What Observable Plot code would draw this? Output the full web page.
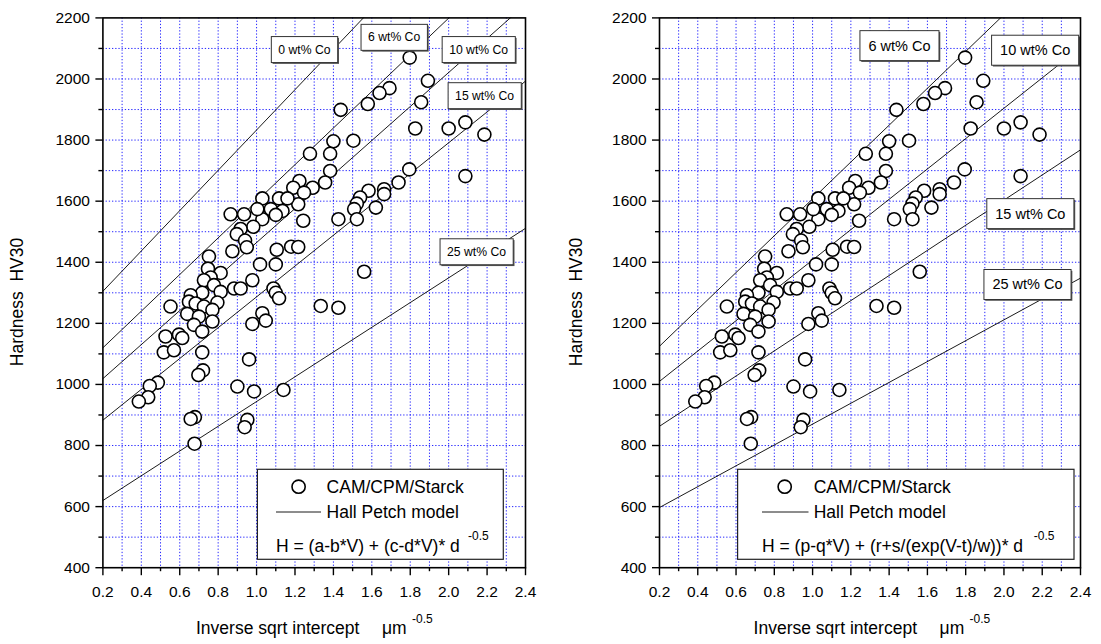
<!DOCTYPE html>
<html><head><meta charset="utf-8">
<script src="https://cdn.jsdelivr.net/npm/d3@7"></script>
<script src="https://cdn.jsdelivr.net/npm/@observablehq/plot@0.6"></script>
<style>
body{margin:0;background:#fff;}
#chart{position:relative;width:1101px;height:644px;font-family:"Liberation Sans",Arial,sans-serif;}
#chart svg{position:absolute;top:0;overflow:visible;}
</style></head><body><div id="chart"></div>
<script>
// ---- data (inverse sqrt intercept, Vickers hardness) ----
const pointX = [1.797,1.892,1.692,1.640,1.579,1.438,1.857,1.826,2.000,2.087,2.186,2.087,1.400,1.504,1.278,1.383,1.383,1.795,1.739,1.357,
 1.292,1.223,1.191,1.247,1.217,1.243,1.583,1.664,1.664,1.539,1.522,1.508,1.621,1.522,1.426,1.560,1.334,1.426,
 1.030,1.117,1.161,1.074,1.135,1.030,1.004,0.935,0.865,0.983,0.917,0.897,0.940,0.949,0.874,1.105,1.100,1.180,1.217,1.018,
 0.752,0.747,0.813,0.761,0.726,0.778,0.978,0.883,0.917,0.717,0.813,0.657,1.088,1.100,1.117,0.648,0.683,0.796,0.726,0.552,
 0.770,0.639,0.700,0.770,0.674,0.717,1.030,1.048,0.978,0.526,0.596,0.613,0.517,0.570,0.717,0.961,1.100,
 0.721,0.697,0.486,0.444,0.436,0.387,0.900,0.987,1.140,0.679,0.657,0.952,0.938,0.677];
const pointY = [2070,1994,1970,1954,1918,1899,1924,1838,1838,1858,1818,1682,1796,1798,1755,1755,1699,1704,1661,1661,
 1644,1666,1644,1628,1590,1536,1634,1639,1623,1612,1592,1574,1579,1541,1541,1369,1257,1251,
 1609,1609,1609,1574,1568,1541,1574,1557,1557,1516,1509,1492,1471,1449,1436,1441,1393,1451,1450,1393,
 1419,1379,1365,1350,1341,1325,1341,1314,1314,1300,1303,1292,1314,1300,1282,1271,1265,1268,1255,1255,
 1244,1231,1222,1206,1195,1173,1233,1209,1198,1157,1163,1152,1105,1112,1105,1082,1555,
 1046,1031,1006,995,958,944,993,977,982,893,887,884,860,806];

// ---- Hall-Petch model lines: hardness at x = 0.2 and at x = 2.4 ----
const leftModels  = ["0 wt% Co","6 wt% Co","10 wt% Co","15 wt% Co","25 wt% Co"];
const leftAtLow   = [1305,1120,1019,883,620];
const leftAtHigh  = [2757,2439,2244,1993,1511];
const leftLabelX  = [1.249,1.716,2.156,2.187,2.145];
const leftLabelY  = [2096,2136,2096,1945,1434];

const rightModels = ["6 wt% Co","10 wt% Co","15 wt% Co","25 wt% Co"];
const rightAtLow  = [1125,1010,863,597];
const rightAtHigh = [2452,2103,1768,1348];
const rightLabelX = [1.454,2.163,2.138,2.123];
const rightLabelY = [2108,2093,1558,1326];

const xLow = 0.2, xHigh = 2.4;
const xMajorTicks = [0.2,0.4,0.6,0.8,1.0,1.2,1.4,1.6,1.8,2.0,2.2,2.4];
const xMinorTicks = [0.3,0.5,0.7,0.9,1.1,1.3,1.5,1.7,1.9,2.1,2.3];
const yMajorTicks = [400,600,800,1000,1200,1400,1600,1800,2000,2200];
const yMinorTicks = [500,700,900,1100,1300,1500,1700,1900,2100];

const points = pointX.map((x,i)=>({x, y: pointY[i]}));
const font = '"Liberation Sans", Arial, sans-serif';

function panel(cfg){
  const lineData = [];
  cfg.models.forEach((m,i)=>{
    lineData.push({model:m, x:xLow, y:cfg.atLow[i]});
    lineData.push({model:m, x:xHigh, y:cfg.atHigh[i]});
  });
  const labels = cfg.models.map((m,i)=>({text:m, x:cfg.labelX[i], y:cfg.labelY[i]}));
  const gridX = xMajorTicks.concat(xMinorTicks).filter(v=>v>0.25 && v<2.35);
  const gridY = yMajorTicks.concat(yMinorTicks).filter(v=>v>450 && v<2150);
  const svg = Plot.plot({
    width: cfg.width, height: 644,
    marginLeft: cfg.ml, marginRight: cfg.mr, marginTop: 17.4, marginBottom: 76.8,
    style: {fontFamily: font, fontSize: "15.5px", color: "black", background: "transparent", overflow: "visible"},
    x: {domain: [xLow, xHigh]},
    y: {domain: [400, 2200]},
    marks: [
      Plot.ruleX(gridX, {stroke: "#0000ff", strokeDasharray: "1.3,1.9", strokeWidth: 1, strokeOpacity: 0.85}),
      Plot.ruleY(gridY, {stroke: "#0000ff", strokeDasharray: "1.3,1.9", strokeWidth: 1, strokeOpacity: 0.85}),
      Plot.line(lineData, {x: "x", y: "y", z: "model", stroke: "black", strokeWidth: 0.9, clip: true}),
      Plot.dot(points, {x: "x", y: "y", r: 6.5, fill: "white", stroke: "black", strokeWidth: 1.6}),
      Plot.text(labels, {x: "x", y: "y", text: "text", fontSize: cfg.labelFont, fill: "black"}),
      Plot.frame({stroke: "black", strokeWidth: 1.6}),
      Plot.axisX(xMajorTicks, {tickSize: 8, tickPadding: 10, tickFormat: d => d.toFixed(1), label: null, strokeWidth: 1.4, fontSize: 15.5}),
      Plot.axisX(xMinorTicks, {tickSize: 4, tickFormat: () => "", label: null, strokeWidth: 1.4}),
      Plot.axisY(yMajorTicks, {tickSize: 7, tickPadding: 6, tickFormat: d => String(d), label: null, strokeWidth: 1.4, fontSize: 15.5}),
      Plot.axisY(yMinorTicks, {tickSize: 4, tickFormat: () => "", label: null, strokeWidth: 1.4})
    ]
  });
  svg.style.left = cfg.left + "px";
  document.getElementById("chart").appendChild(svg);

  // boxes behind the composition labels
  svg.querySelectorAll('g[aria-label="text"] text').forEach(t=>{
    const b = t.getBBox();
    const tr = t.getAttribute("transform");
    const px = cfg.padX, py = cfg.padY;
    const mk = (dx, attrs)=>{
      const r = document.createElementNS("http://www.w3.org/2000/svg","rect");
      r.setAttribute("x", b.x - px + dx); r.setAttribute("y", b.y - py + dx);
      r.setAttribute("width", b.width + 2*px); r.setAttribute("height", b.height + 2*py);
      if (tr) r.setAttribute("transform", tr);
      for (const k in attrs) r.setAttribute(k, attrs[k]);
      t.parentNode.insertBefore(r, t);
    };
    mk(1.3, {fill: "#555", stroke: "none"});
    mk(0, {fill: "white", stroke: "#333", "stroke-width": 1});
  });

  const s = d3.select(svg);
  const txt = (x, y, size, str) => s.append("text").attr("x", x).attr("y", y).attr("font-size", size)
    .attr("font-family", font).attr("text-anchor", "start").attr("fill", "black").text(str);
  // legend
  const L = cfg.legend;
  s.append("rect").attr("x", L.x0).attr("y", 469.3).attr("width", L.x1 - L.x0).attr("height", 90)
    .attr("fill", "white").attr("stroke", "#222").attr("stroke-width", 1.2);
  s.append("circle").attr("cx", L.cx).attr("cy", 486.7).attr("r", 6.6)
    .attr("fill", "white").attr("stroke", "black").attr("stroke-width", 1.6);
  txt(L.tx, 493.3, 17.5, "CAM/CPM/Starck");
  s.append("line").attr("x1", L.lx0).attr("x2", L.lx1).attr("y1", 512).attr("y2", 512).attr("stroke", "black").attr("stroke-width", 0.9);
  txt(L.tx, 518, 17.5, "Hall Petch model");
  txt(L.lx0, 551.7, 17.5, cfg.formula);
  txt(L.sx, 540, 12, "-0.5");

  // axis titles
  s.append("text").attr("transform", `translate(${cfg.yTitleX},302) rotate(-90)`).attr("text-anchor", "middle")
    .attr("font-size", 17.5).attr("font-family", font).attr("fill", "black").style("white-space", "pre").text("Hardness  HV30");
  txt(cfg.xTitleX, 634, 17.5, "Inverse sqrt intercept");
  txt(cfg.xTitleX + 186, 634, 17.5, "\u03bcm");
  txt(cfg.xTitleX + 216, 623, 12, "-0.5");
}

panel({
  left: 0, width: 550, ml: 102.4, mr: 25,
  models: leftModels, atLow: leftAtLow, atHigh: leftAtHigh, labelX: leftLabelX, labelY: leftLabelY,
  labelFont: 12.2, padX: 7, padY: 6,
  legend: {x0: 257.4, x1: 503.3, cx: 298.6, tx: 326.6, lx0: 276, lx1: 321, sx: 468},
  formula: "H = (a-b*V) + (c-d*V)* d",
  yTitleX: 23, xTitleX: 196
});
panel({
  left: 550, width: 551, ml: 109, mr: 21,
  models: rightModels, atLow: rightAtLow, atHigh: rightAtHigh, labelX: rightLabelX, labelY: rightLabelY,
  labelFont: 14.5, padX: 8.5, padY: 7,
  legend: {x0: 187.6, x1: 524, cx: 234.7, tx: 263.7, lx0: 212, lx1: 258.5, sx: 483.8},
  formula: "H = (p-q*V) + (r+s/(exp(V-t)/w))* d",
  yTitleX: 32, xTitleX: 203.6
});
</script></body></html>
